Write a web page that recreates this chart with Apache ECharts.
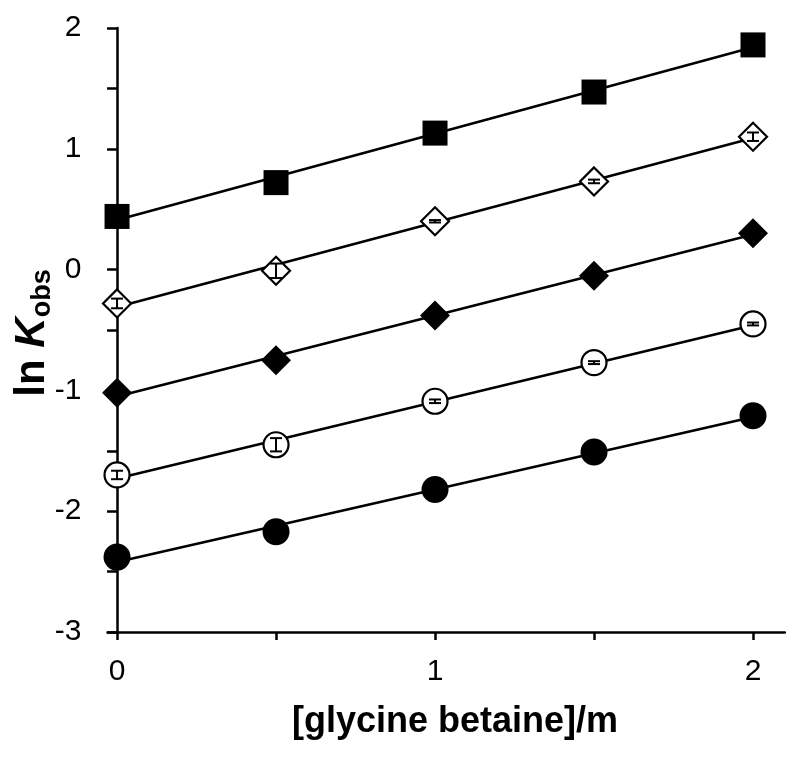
<!DOCTYPE html>
<html>
<head>
<meta charset="utf-8">
<script src="https://cdn.jsdelivr.net/npm/echarts@6/dist/echarts.min.js"></script>
<style>
html,body{margin:0;padding:0;background:#fff;}
#chart{width:800px;height:757px;}
</style>
</head>
<body>
<div id="chart"></div>
<script>
// Data
const xValues = [0, 0.5, 1, 1.5, 2];
const filledSquares = [0.44, 0.72, 1.13, 1.47, 1.86];
const openDiamonds = [-0.28, -0.01, 0.40, 0.73, 1.10];
const filledDiamonds = [-1.02, -0.75, -0.38, -0.05, 0.30];
const openCircles = [-1.70, -1.45, -1.09, -0.77, -0.45];
const filledCircles = [-2.38, -2.17, -1.82, -1.51, -1.21];
const openDiamondErr = [0.04, 0.06, 0.01, 0.015, 0.035];
const openCircleErr = [0.035, 0.055, 0.015, 0.012, 0.012];
// fitted straight lines: value at x = 0 and x = 2
const fitX = [0, 2];
const fitSquares = [0.41, 1.84];
const fitOpenDiamonds = [-0.31, 1.09];
const fitFilledDiamonds = [-1.05, 0.29];
const fitOpenCircles = [-1.73, -0.46];
const fitFilledCircles = [-2.42, -1.22];
const xTickValues = [0, 0.5, 1, 1.5, 2];
const xLabelValues = [0, 1, 2];

const FONT = '"Liberation Sans", Arial, sans-serif';
const pts = ys => xValues.map((x, i) => [x, ys[i]]);
const fit = ys => fitX.map((x, i) => [x, ys[i]]);

function lineSeries(ys) {
  return { type: 'line', data: fit(ys), showSymbol: false, silent: true, z: 2,
    lineStyle: { color: '#000', width: 2.5 } };
}
function scatterSeries(ys, symbol, size, filled) {
  return { type: 'scatter', data: pts(ys), symbol: symbol, symbolSize: size, z: 3,
    itemStyle: { color: filled ? '#000' : '#fff', borderColor: '#000', borderWidth: filled ? 0 : 2.2, opacity: 1 } };
}
function errSeries(ys, errs) {
  return {
    type: 'custom', z: 4, silent: true,
    data: xValues.map((x, i) => [x, ys[i], errs[i]]),
    renderItem: function (params, api) {
      const x = api.value(0), y = api.value(1), e = api.value(2);
      const lo = api.coord([x, y - e]);
      const hi = api.coord([x, y + e]);
      const w = 6;
      const st = { stroke: '#000', lineWidth: 2 };
      return { type: 'group', children: [
        { type: 'line', shape: { x1: lo[0], y1: lo[1], x2: hi[0], y2: hi[1] }, style: st },
        { type: 'line', shape: { x1: lo[0] - w, y1: lo[1], x2: lo[0] + w, y2: lo[1] }, style: st },
        { type: 'line', shape: { x1: hi[0] - w, y1: hi[1], x2: hi[0] + w, y2: hi[1] }, style: st }
      ]};
    }
  };
}

const chart = echarts.init(document.getElementById('chart'), null, { renderer: 'canvas' });
chart.setOption({
  animation: false,
  backgroundColor: '#fff',
  grid: { left: 107.5, top: 28, width: 677.3, height: 604, containLabel: false },
  xAxis: {
    type: 'value', min: -0.03, max: 2.1,
    splitLine: { show: false },
    axisLine: { onZero: false, lineStyle: { color: '#000', width: 2.5 } },
    axisTick: { show: true, length: 8, inside: false, customValues: xTickValues, lineStyle: { color: '#000', width: 2.5 } },
    axisLabel: { customValues: xLabelValues, color: '#000', fontSize: 30, fontFamily: FONT, margin: 25 }
  },
  yAxis: {
    type: 'value', min: -3, max: 2, interval: 0.5,
    splitLine: { show: false },
    axisLine: { onZero: true, lineStyle: { color: '#000', width: 2.5 } },
    axisTick: { show: true, length: 10, inside: false, lineStyle: { color: '#000', width: 2.5 } },
    axisLabel: { color: '#000', fontSize: 30, fontFamily: FONT, margin: 26,
      formatter: v => (Math.abs(v - Math.round(v)) < 1e-9 ? String(Math.round(v)) : '') }
  },
  graphic: [
    { type: 'text', x: 455, y: 722,
      style: { text: '[glycine betaine]/m', font: 'bold 36px ' + FONT, fill: '#000', align: 'center', verticalAlign: 'middle' } },
    { type: 'text', x: 32, y: 333, rotation: Math.PI / 2,
      style: {
        text: '{a|ln }{k|K}{s|obs}', align: 'center', verticalAlign: 'middle', fill: '#000',
        rich: {
          a: { font: 'bold 42px ' + FONT, lineHeight: 48, verticalAlign: 'middle' },
          k: { font: 'italic bold 42px ' + FONT, lineHeight: 48, verticalAlign: 'middle' },
          s: { font: 'bold 27px ' + FONT, lineHeight: 27, verticalAlign: 'bottom', padding: [14, 0, 0, 0] }
        }
      } }
  ],
  series: [
    lineSeries(fitSquares), lineSeries(fitOpenDiamonds), lineSeries(fitFilledDiamonds),
    lineSeries(fitOpenCircles), lineSeries(fitFilledCircles),
    scatterSeries(filledSquares, 'rect', 25, true),
    scatterSeries(openDiamonds, 'diamond', [28, 28], false),
    scatterSeries(filledDiamonds, 'diamond', [30, 30], true),
    scatterSeries(openCircles, 'circle', 25, false),
    scatterSeries(filledCircles, 'circle', 27, true),
    errSeries(openDiamonds, openDiamondErr),
    errSeries(openCircles, openCircleErr)
  ]
});
</script>
</body>
</html>
